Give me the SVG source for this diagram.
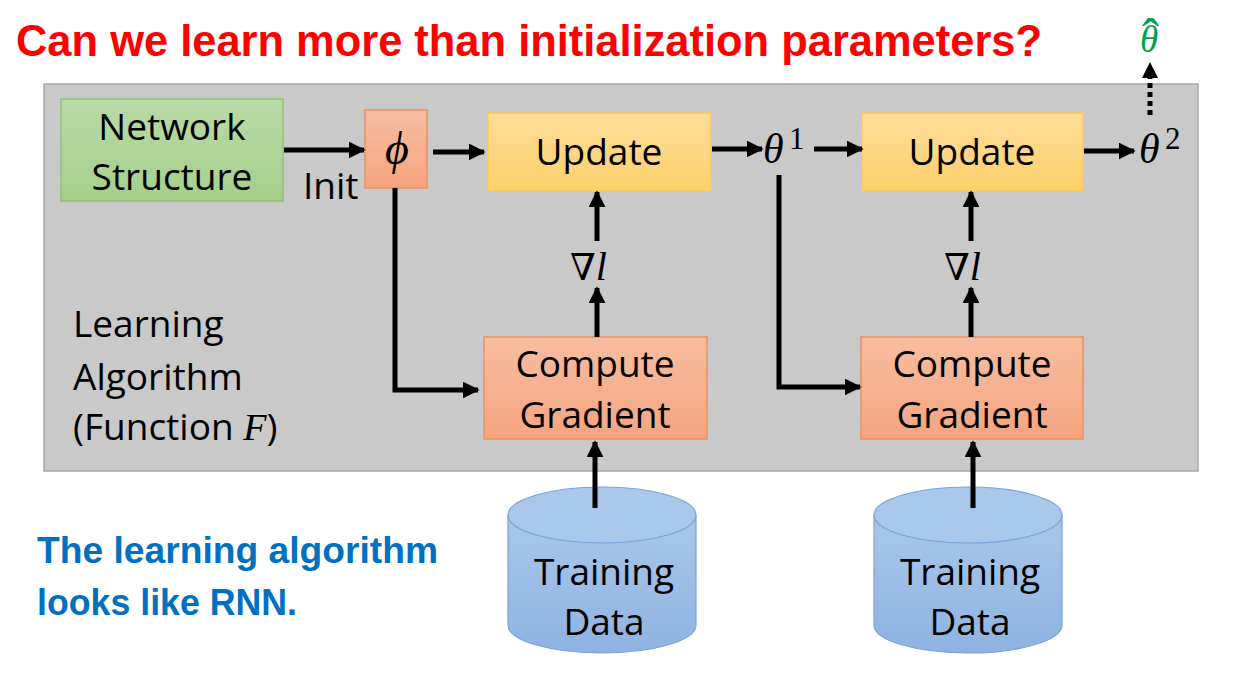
<svg xmlns="http://www.w3.org/2000/svg" width="1234" height="681" viewBox="0 0 1234 681">
<defs>
<linearGradient id="gGreen" x1="0" y1="0" x2="0" y2="1"><stop offset="0" stop-color="#b9dba6"/><stop offset="1" stop-color="#a5cf8a"/></linearGradient>
<linearGradient id="gOrange" x1="0" y1="0" x2="0" y2="1"><stop offset="0" stop-color="#f8bea1"/><stop offset="1" stop-color="#f4a47f"/></linearGradient>
<linearGradient id="gYellow" x1="0" y1="0" x2="0" y2="1"><stop offset="0" stop-color="#fedd9a"/><stop offset="1" stop-color="#fdd06a"/></linearGradient>
<linearGradient id="gBlue" x1="0" y1="0" x2="0" y2="1"><stop offset="0" stop-color="#a9c7ea"/><stop offset="1" stop-color="#8eb3e2"/></linearGradient>
<marker id="ah" viewBox="0 0 10 10" refX="9" refY="5" markerWidth="3.4" markerHeight="3.4" orient="auto" markerUnits="strokeWidth"><path d="M0,0 L10,5 L0,10 Z" fill="#000"/></marker>
</defs>
<style>
.t{font-family:"Open Sans","Liberation Sans",sans-serif;font-size:37px;fill:#000}
.m{font-family:"Liberation Serif","DejaVu Serif",serif;font-style:italic;fill:#000}
.n{font-family:"DejaVu Serif",serif;font-style:normal}
.sup{font-family:"Liberation Serif","DejaVu Serif",serif;font-size:31px;fill:#000}
.b{font-family:"Liberation Sans",sans-serif;font-weight:bold;font-size:36px;fill:#0070c0}
.a{stroke:#000;stroke-width:5;fill:none;marker-end:url(#ah)}
.box{stroke-width:1.5}
</style>
<rect width="1234" height="681" fill="#fff"/>
<text x="16" y="56" font-family="Liberation Sans,sans-serif" font-weight="bold" font-size="44" fill="#ff0000" textLength="1026" lengthAdjust="spacingAndGlyphs">Can we learn more than initialization parameters?</text>
<g id="thetahat"><text x="1140" y="52" class="m" font-size="37" style="fill:#00a050">θ<tspan x="1142" y="55" font-size="52" style="font-style:normal">ˆ</tspan></text></g>
<g id="algorithm">
<rect x="44" y="84" width="1154" height="387" fill="#c9c9c9" stroke="#a8a8a8" stroke-width="1.5"/>
<text class="t" x="73" y="337">Learning</text>
<text class="t" x="73" y="390">Algorithm</text>
<text class="t" x="73" y="440">(Function <tspan class="m" font-size="38">F</tspan>)</text>
</g>
<g id="network"><rect class="box" x="61" y="99" width="222" height="102" fill="url(#gGreen)" stroke="#92c275"/><text class="t" x="172" y="140" text-anchor="middle">Network</text><text class="t" x="172" y="190" text-anchor="middle">Structure</text></g>
<g id="phi"><rect class="box" x="365" y="110" width="62" height="78" fill="url(#gOrange)" stroke="#f0905e"/><text class="m" font-size="46" x="397" y="164" text-anchor="middle">ϕ</text></g>
<g id="update1"><rect class="box" x="488" y="113" width="223" height="78" fill="url(#gYellow)" stroke="#fcca5a"/><text class="t" x="599" y="165" text-anchor="middle">Update</text></g>
<g id="update2"><rect class="box" x="862" y="113" width="221" height="78" fill="url(#gYellow)" stroke="#fcca5a"/><text class="t" x="972" y="165" text-anchor="middle">Update</text></g>
<g id="theta1"><text class="m" font-size="42" x="763" y="163">θ<tspan class="sup" style="font-style:normal" x="789" y="149">1</tspan></text></g>
<g id="theta2"><text class="m" font-size="42" x="1139" y="163">θ<tspan class="sup" style="font-style:normal" x="1165" y="149">2</tspan></text></g>
<g id="grad1"><text class="m" font-size="40" x="570" y="280"><tspan class="n" font-size="37">∇</tspan>l</text></g>
<g id="grad2"><text class="m" font-size="40" x="944" y="280"><tspan class="n" font-size="37">∇</tspan>l</text></g>
<g id="compute1"><rect class="box" x="484" y="337" width="223" height="102" fill="url(#gOrange)" stroke="#f0905e"/><text class="t" x="595" y="377" text-anchor="middle">Compute</text><text class="t" x="595" y="428" text-anchor="middle">Gradient</text></g>
<g id="compute2"><rect class="box" x="861" y="337" width="222" height="102" fill="url(#gOrange)" stroke="#f0905e"/><text class="t" x="972" y="377" text-anchor="middle">Compute</text><text class="t" x="972" y="428" text-anchor="middle">Gradient</text></g>
<g id="data1"><path d="M508,515 L508,625 A94,28 0 0 0 696,625 L696,515" fill="url(#gBlue)" stroke="#7aa3d6" stroke-width="1.2"/><ellipse cx="602" cy="515" rx="94" ry="28" fill="#a9c7ea" stroke="#7aa3d6" stroke-width="1.2"/><text class="t" x="604" y="585" text-anchor="middle">Training</text><text class="t" x="604" y="635" text-anchor="middle">Data</text></g>
<g id="data2"><path d="M874,515 L874,625 A94,28 0 0 0 1062,625 L1062,515" fill="url(#gBlue)" stroke="#7aa3d6" stroke-width="1.2"/><ellipse cx="968" cy="515" rx="94" ry="28" fill="#a9c7ea" stroke="#7aa3d6" stroke-width="1.2"/><text class="t" x="970" y="585" text-anchor="middle">Training</text><text class="t" x="970" y="635" text-anchor="middle">Data</text></g>
<g id="note"><text class="b" x="37" y="563" textLength="401" lengthAdjust="spacingAndGlyphs">The learning algorithm</text><text class="b" x="37" y="615" textLength="260" lengthAdjust="spacingAndGlyphs">looks like RNN.</text></g>
<text class="t" x="303" y="199">Init</text>
<g id="connectors">
<line class="a" x1="284" y1="150" x2="364" y2="150"/>
<line class="a" x1="433" y1="152" x2="484" y2="152"/>
<line class="a" x1="712" y1="149" x2="762" y2="149"/>
<line class="a" x1="814" y1="149" x2="862" y2="149"/>
<line class="a" x1="1084" y1="151" x2="1134" y2="151"/>
<line class="a" x1="597" y1="241" x2="597" y2="192"/>
<line class="a" x1="597" y1="337" x2="597" y2="288"/>
<line class="a" x1="971" y1="241" x2="971" y2="192"/>
<line class="a" x1="971" y1="337" x2="971" y2="288"/>
<polyline class="a" points="395,188 395,390 478,390"/>
<polyline class="a" points="779,175 779,387 860,387"/>
<line class="a" x1="595" y1="508" x2="595" y2="442"/>
<line class="a" x1="973" y1="508" x2="973" y2="442"/>
<line x1="1150" y1="115" x2="1150" y2="76" stroke="#000" stroke-width="5" stroke-dasharray="5,4"/>
<path d="M1142,78 L1158,78 L1150,62 Z" fill="#000"/>
</g>
</svg>
